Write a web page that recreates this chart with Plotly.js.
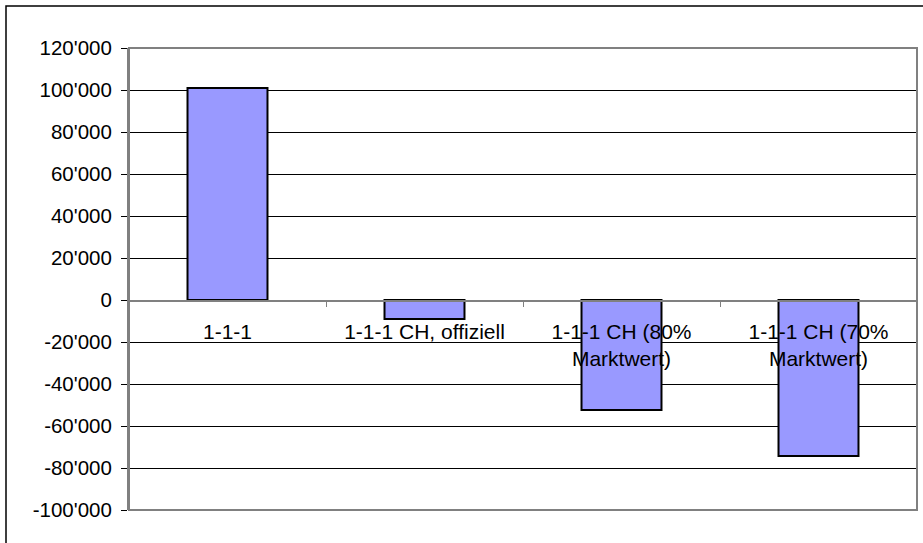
<!DOCTYPE html>
<html>
<head>
<meta charset="utf-8">
<script src="https://cdn.plot.ly/plotly-3.0.1.min.js"></script>
<style>html,body{margin:0;padding:0;background:#fff;}#chart{width:923px;height:543px;}</style>
</head>
<body>
<div id="chart"></div>
<script>
var categories = ["1-1-1", "1-1-1 CH, offiziell", "1-1-1 CH (80%<br>Marktwert)", "1-1-1 CH (70%<br>Marktwert)"];
var values = [101000, -9000, -52400, -74300];
var yTickVals = [-100000, -80000, -60000, -40000, -20000, 0, 20000, 40000, 60000, 80000, 100000, 120000];
var yTickText = ["-100'000", "-80'000", "-60'000", "-40'000", "-20'000", "0", "20'000", "40'000", "60'000", "80'000", "100'000", "120'000"];

var W = 923, H = 543;
var L = 129, R = 6, T = 48, B = 33;
var pw = W - L - R, ph = H - T - B;
function px(x) { return (x - L) / pw; }
function py(y) { return (H - B - y) / ph; }

var xfont = {family: "Liberation Sans, Arial, sans-serif", size: 21, color: "#000"};
var yfont = {family: "Liberation Sans, Arial, sans-serif", size: 20.5, color: "#000"};

var data = [{
  type: "bar",
  x: categories,
  y: values,
  marker: {color: "#9999FF", line: {color: "#000", width: 2}},
  hoverinfo: "skip"
}];

var layout = {
  width: W, height: H,
  margin: {l: L, r: R, t: T, b: B, pad: 0},
  paper_bgcolor: "#fff",
  plot_bgcolor: "#fff",
  showlegend: false,
  bargap: 0.594,
  font: xfont,
  xaxis: {
    type: "category",
    anchor: "free",
    position: py(300),
    showline: true,
    linecolor: "#808080",
    linewidth: 1.5,
    ticks: "outside",
    tickson: "boundaries",
    ticklen: 5,
    tickcolor: "#808080",
    showgrid: false,
    zeroline: false,
    tickfont: xfont,
    ticklabelstandoff: 12,
    layer: "above traces"
  },
  yaxis: {
    range: [-100000, 120000],
    tickvals: yTickVals,
    ticktext: yTickText,
    showgrid: true,
    gridcolor: "#000",
    gridwidth: 1,
    zeroline: false,
    showline: true,
    linecolor: "#808080",
    linewidth: 2,
    ticks: "outside",
    ticklen: 6,
    tickcolor: "#000",
    tickfont: yfont,
    ticklabelstandoff: 5,
    fixedrange: true
  },
  shapes: [
    {type: "rect", xref: "paper", yref: "paper", x0: 0, x1: 1, y0: 0, y1: 1,
     line: {color: "#808080", width: 2}, fillcolor: "rgba(0,0,0,0)", layer: "above"},
    {type: "rect", xref: "paper", yref: "paper", x0: px(6), x1: px(930), y0: py(550), y1: py(6),
     line: {color: "#000", width: 1.5}, fillcolor: "rgba(0,0,0,0)", layer: "above"}
  ]
};

Plotly.newPlot("chart", data, layout, {staticPlot: true, displayModeBar: false});
</script>
</body>
</html>
